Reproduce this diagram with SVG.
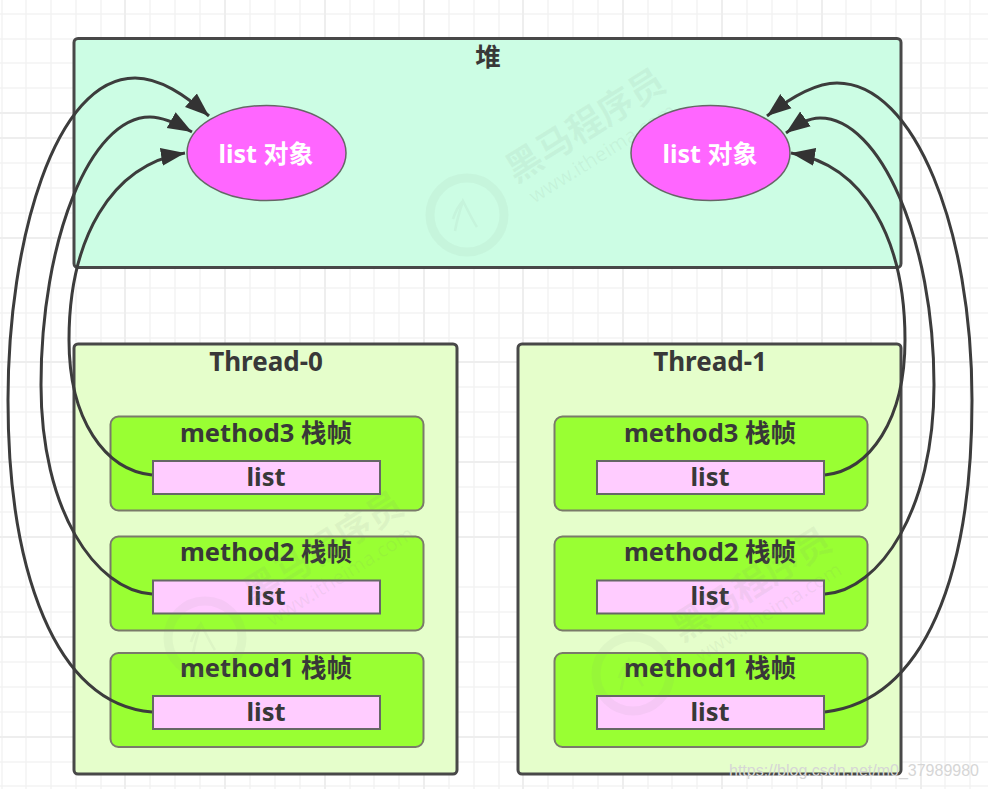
<svg xmlns="http://www.w3.org/2000/svg" width="988" height="789" viewBox="0 0 988 789">
  <defs>
    <style>
      text { font-family: "Noto Sans", "Noto Sans CJK SC", sans-serif; font-weight: 700; text-anchor: middle; fill: #383838; }
      .grid { stroke: #f3f3f3; stroke-width: 1.5; fill: none; }
      .grid2 { stroke: #eeeeee; stroke-width: 2; fill: none; }
      .heap { fill: #ccfde4; stroke: #484848; stroke-width: 3; }
      .thread { fill: #e5fecb; stroke: #484848; stroke-width: 3; }
      .frame { fill: #99ff33; stroke: #7a7a6a; stroke-width: 2; }
      .slot { fill: #ffccff; stroke: #666; stroke-width: 2; }
      .obj { fill: #ff66ff; stroke: #666; stroke-width: 1.5; }
      .t25 { font-size: 25px; }
      .t26 { font-size: 25.500px; }
      .link { fill: none; stroke: #3c3c3c; stroke-width: 3; marker-end: url(#head); }
      .wm { fill: #7d8f7d; fill-opacity: .09; }
      .wmu { fill: #7d8f7d; fill-opacity: .09; font-weight: 400; font-size: 20px; }
      .wmr { fill: none; stroke: #7d8f7d; stroke-opacity: .07; stroke-width: 9; }
      .wml { fill: none; stroke: #7d8f7d; stroke-opacity: .08; stroke-width: 2.500; }
      .credit { font-family: "Liberation Sans", sans-serif; font-weight: 400; font-size: 16px; fill: #d6d6d6; }
    </style>
    <marker id="head" markerUnits="userSpaceOnUse" markerWidth="26" markerHeight="20" refX="24" refY="10" orient="auto">
      <path d="M0 1 L24 10 L0 19 Z" fill="#333"/>
    </marker>
    <g id="stamp-mark">
      <circle class="wmr" cx="0" cy="0" r="37"/>
      <path class="wml" d="M-12 16 C-10 4 -6 -8 -4 -14 C0 -6 6 6 10 12 M-4 -14 C-8 -10 -12 -2 -14 4"/>
    </g>
  </defs>

  <rect width="988" height="789" fill="#fff"/>
  <!-- background grid -->
  <path class="grid" d="M2 0V789M26 0V789M51 0V789M76 0V789M101 0V789M150 0V789M175 0V789M200 0V789M250 0V789M275 0V789M300 0V789M350 0V789M374 0V789M399 0V789M449 0V789M474 0V789M499 0V789M548 0V789M573 0V789M598 0V789M648 0V789M672 0V789M697 0V789M747 0V789M772 0V789M797 0V789M846 0V789M871 0V789M896 0V789M945 0V789M970 0V789M0 14H988M0 39H988M0 63H988M0 88H988M0 163H988M0 188H988M0 213H988M0 288H988M0 313H988M0 338H988M0 387H988M0 412H988M0 437H988M0 487H988M0 512H988M0 587H988M0 612H988M0 662H988M0 687H988M0 712H988M0 762H988M0 786H988"/>
  <path class="grid2" d="M125 0V789M225 0V789M325 0V789M424 0V789M523 0V789M623 0V789M722 0V789M822 0V789M921 0V789M0 113H988M0 138H988M0 238H988M0 362H988M0 462H988M0 537H988M0 637H988M0 737H988"/>

  <g id="heap">
    <rect class="heap" x="74" y="38.500" width="827" height="229" rx="4"/>
    <text class="t26" x="488" y="66">堆</text>
  </g>
  <g id="thread-0">
    <rect class="thread" x="74" y="344" width="383" height="430" rx="4"/>
    <text class="t26" x="266" y="371" style="font-size:26px">Thread-0</text>
  </g>
  <g id="thread-1">
    <rect class="thread" x="518" y="344" width="383" height="430" rx="4"/>
    <text class="t26" x="710" y="371" style="font-size:26px">Thread-1</text>
  </g>

  <!-- stamp on the heap panel, under the objects -->
  <g id="stamp-heap">
    <use href="#stamp-mark" x="467" y="215"/>
    <text class="wm" font-size="36" transform="translate(592 136) rotate(-32)">黑马程序员</text>
    <text class="wmu" transform="translate(606 159) rotate(-32)">www.itheima.com</text>
  </g>

  <g id="obj-left">
    <ellipse class="obj" cx="266.500" cy="153" rx="79.500" ry="47.500"/>
    <text class="t25" x="266" y="163" style="fill:#fff">list 对象</text>
  </g>
  <g id="obj-right">
    <ellipse class="obj" cx="710.500" cy="153" rx="79.500" ry="47.500"/>
    <text class="t25" x="710" y="163" style="fill:#fff">list 对象</text>
  </g>

  <g id="t0-m3">
    <rect class="frame" x="110.500" y="416.500" width="313" height="94" rx="8"/>
    <text class="t26" x="266" y="442">method3 栈帧</text>
    <rect class="slot" x="153" y="461" width="227" height="33"/>
    <text class="t26" x="266" y="486">list</text>
  </g>
  <g id="t0-m2">
    <rect class="frame" x="110.500" y="536.500" width="313" height="94" rx="8"/>
    <text class="t26" x="266" y="561">method2 栈帧</text>
    <rect class="slot" x="153" y="580.500" width="227" height="33"/>
    <text class="t26" x="266" y="605">list</text>
  </g>
  <g id="t0-m1">
    <rect class="frame" x="110.500" y="653" width="313" height="94" rx="8"/>
    <text class="t26" x="266" y="677">method1 栈帧</text>
    <rect class="slot" x="153" y="696" width="227" height="33"/>
    <text class="t26" x="266" y="721">list</text>
  </g>
  <g id="t1-m3">
    <rect class="frame" x="554.500" y="416.500" width="313" height="94" rx="8"/>
    <text class="t26" x="710" y="442">method3 栈帧</text>
    <rect class="slot" x="597" y="461" width="227" height="33"/>
    <text class="t26" x="710" y="486">list</text>
  </g>
  <g id="t1-m2">
    <rect class="frame" x="554.500" y="536.500" width="313" height="94" rx="8"/>
    <text class="t26" x="710" y="561">method2 栈帧</text>
    <rect class="slot" x="597" y="580.500" width="227" height="33"/>
    <text class="t26" x="710" y="605">list</text>
  </g>
  <g id="t1-m1">
    <rect class="frame" x="554.500" y="653" width="313" height="94" rx="8"/>
    <text class="t26" x="710" y="677">method1 栈帧</text>
    <rect class="slot" x="597" y="696" width="227" height="33"/>
    <text class="t26" x="710" y="721">list</text>
  </g>

  <!-- stamps laid over the thread panels -->
  <g id="stamp-thread-0">
    <use href="#stamp-mark" x="205" y="638"/>
    <text class="wm" font-size="36" transform="translate(330 559) rotate(-32)">黑马程序员</text>
    <text class="wmu" transform="translate(344 582) rotate(-32)">www.itheima.com</text>
  </g>
  <g id="stamp-thread-1">
    <use href="#stamp-mark" x="633" y="674"/>
    <text class="wm" font-size="36" transform="translate(758 595) rotate(-32)">黑马程序员</text>
    <text class="wmu" transform="translate(772 618) rotate(-32)">www.itheima.com</text>
  </g>

  <g id="connectors">
    <path class="link" d="M152 712 C55 705 8 570 8 400 C8 240 55 78 135 78 C160 78 185 95 209 116"/>
    <path class="link" d="M152 594 C95 590 41 510 41 385 C41 240 90 117 150 117 C163 117 178 124 192 132"/>
    <path class="link" d="M152 475 C105 470 69 420 69 340 C69 240 110 165 185 153"/>
    <path class="link" d="M825 712 C925 700 972 575 972 400 C972 230 915 83 837 83 C815 83 790 98 767 116"/>
    <path class="link" d="M825 594 C880 590 934 510 934 385 C934 240 880 118 820 118 C808 118 797 125 786 133"/>
    <path class="link" d="M825 475 C870 470 905 420 905 340 C905 240 865 165 791 153"/>
  </g>

  <text class="credit" x="854" y="776">https://blog.csdn.net/m0_37989980</text>
</svg>
